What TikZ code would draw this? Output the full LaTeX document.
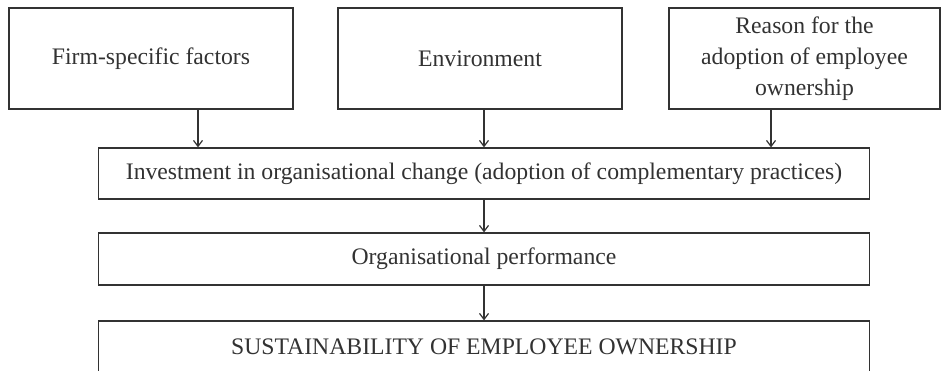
\documentclass[tikz,border=0pt]{standalone}
\usepackage{fontspec}
\setmainfont{Liberation Serif}
\usetikzlibrary{arrows.meta}
\definecolor{linegray}{RGB}{50,50,50}
\tikzset{
	factor/.style={draw=linegray,line width=1.2pt,text=linegray,align=center,inner sep=0pt,
		minimum width=284pt,minimum height=101pt,font=\fontsize{23.7}{31}\selectfont},
	stage/.style={factor,minimum width=771pt,minimum height=51pt},
	flow/.style={draw=linegray,line width=1.2pt,-{Straight Barb[length=6pt,width=9pt]}}
}

\begin{document}
\begin{tikzpicture}[x=1pt,y=-1pt]
		\useasboundingbox (0,0) rectangle (941,370);
		\node[factor] (firm) at (151,58.5) {Firm-specific factors};
		\node[factor] (env) at (480,58.5) {Environment};
		\node[factor,minimum width=271pt] (reason) at (804.5,58.5) {Reason for the\\adoption of employee\\ownership};
		\node[stage] (invest) at (484,173.5) {Investment in organisational change (adoption of complementary practices)};
		\node[stage,minimum height=52pt] (perf) at (484,259) {Organisational performance};
		\node[stage,minimum height=52pt] (sust) at (484,347) {SUSTAINABILITY OF EMPLOYEE OWNERSHIP};
		
		\draw[flow] ([xshift=47pt]firm.south) -- ([xshift=47pt]firm.south |- invest.north);
		\draw[flow] ([xshift=4pt]env.south) -- ([xshift=4pt]env.south |- invest.north);
		\draw[flow] ([xshift=-33.5pt]reason.south) -- ([xshift=-33.5pt]reason.south |- invest.north);
		\draw[flow] (invest) -- (perf);
		\draw[flow] (perf) -- (sust);
\end{tikzpicture}
\end{document}
